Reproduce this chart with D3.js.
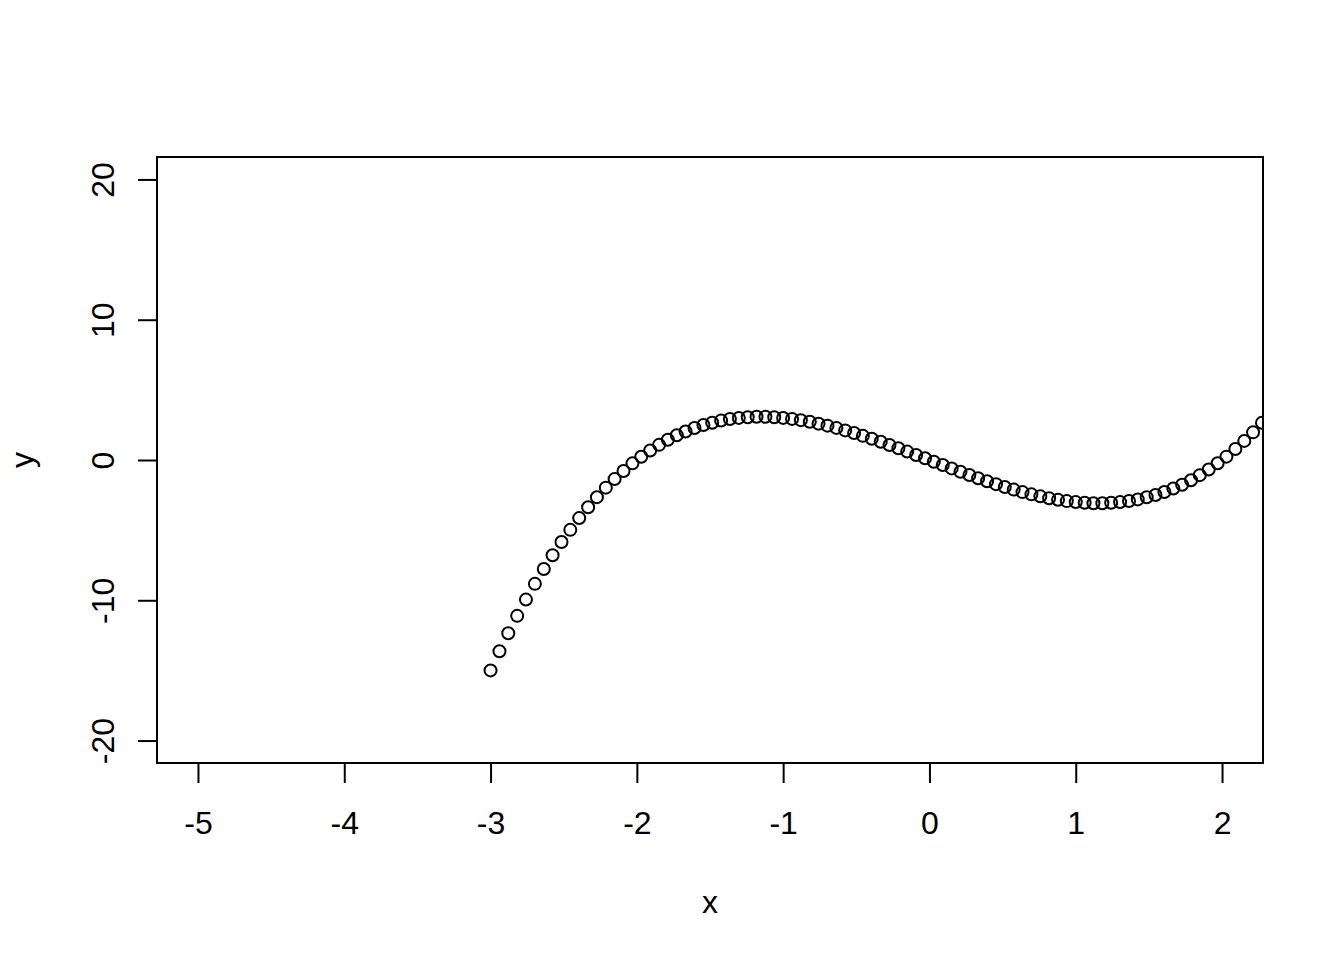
<!doctype html>
<html>
<head>
    <style>
        body { margin: 0; background: white; }
        text { font-family: "Liberation Sans", Arial, sans-serif; fill: black; }
    </style>
    <script src="https://d3js.org/d3.v7.min.js"></script>
</head>
<body>
    <svg width="1344" height="960"></svg>
    <script>
        // points (x from -3 upward)
        var xs = [-3.000, -2.939, -2.879, -2.818, -2.758, -2.697, -2.636, -2.576, -2.515, -2.455,
                  -2.394, -2.333, -2.273, -2.212, -2.152, -2.091, -2.030, -1.970, -1.909, -1.848,
                  -1.788, -1.727, -1.667, -1.606, -1.545, -1.485, -1.424, -1.364, -1.303, -1.242,
                  -1.182, -1.121, -1.061, -1.000, -0.939, -0.879, -0.818, -0.758, -0.697, -0.636,
                  -0.576, -0.515, -0.455, -0.394, -0.333, -0.273, -0.212, -0.152, -0.091, -0.030,
                   0.030,  0.091,  0.152,  0.212,  0.273,  0.333,  0.394,  0.455,  0.515,  0.576,
                   0.636,  0.697,  0.758,  0.818,  0.879,  0.939,  1.000,  1.061,  1.121,  1.182,
                   1.242,  1.303,  1.364,  1.424,  1.485,  1.545,  1.606,  1.667,  1.727,  1.788,
                   1.848,  1.909,  1.970,  2.030,  2.091,  2.152,  2.212,  2.273,  2.333];
        var ys = [-15.00, -13.63, -12.35, -11.11, -9.95, -8.83, -7.77, -6.79, -5.85, -4.98,
                  -4.14, -3.37, -2.65, -1.97, -1.36, -0.78, -0.24, 0.23, 0.68, 1.08,
                  1.44, 1.76, 2.03, 2.28, 2.49, 2.66, 2.81, 2.92, 3.00, 3.05,
                  3.08, 3.08, 3.05, 3.00, 2.93, 2.84, 2.73, 2.59, 2.45, 2.29,
                  2.11, 1.92, 1.72, 1.52, 1.30, 1.07, 0.84, 0.60, 0.36, 0.12,
                  -0.12, -0.36, -0.60, -0.84, -1.07, -1.30, -1.52, -1.72, -1.92, -2.11,
                  -2.29, -2.45, -2.59, -2.73, -2.84, -2.93, -3.00, -3.05, -3.08, -3.08,
                  -3.05, -3.00, -2.92, -2.81, -2.66, -2.49, -2.28, -2.03, -1.76, -1.44,
                  -1.08, -0.68, -0.23, 0.24, 0.78, 1.36, 1.97, 2.65, 3.37];
        var xTicks = [-5, -4, -3, -2, -1, 0, 1, 2];
        var yTicks = [-20, -10, 0, 10, 20];
        var xlim = [-5, 2], ylim = [-20, 20];

        var svg = d3.select("svg");
        var pLeft = 157, pRight = 1263, pTop = 157, pBottom = 763;
        var fontSize = "32px";

        // R style 4% padding on each side
        var xpad = (xlim[1] - xlim[0]) * 0.04, ypad = (ylim[1] - ylim[0]) * 0.04;
        var x = d3.scaleLinear().domain([xlim[0] - xpad, xlim[1] + xpad]).range([pLeft, pRight]);
        var y = d3.scaleLinear().domain([ylim[0] - ypad, ylim[1] + ypad]).range([pBottom, pTop]);

        svg.append("clipPath").attr("id", "plotclip")
           .append("rect")
           .attr("x", pLeft).attr("y", pTop)
           .attr("width", pRight - pLeft).attr("height", pBottom - pTop);

        var data = xs.map(function(d, i) { return { x: d, y: ys[i] }; });

        svg.append("g")
           .attr("clip-path", "url(#plotclip)")
           .selectAll("circle")
           .data(data)
           .enter().append("circle")
           .attr("cx", function(d) { return x(d.x); })
           .attr("cy", function(d) { return y(d.y); })
           .attr("r", 6)
           .attr("fill", "none")
           .attr("stroke", "black")
           .attr("stroke-width", 2);

        // x axis
        var xAxis = svg.append("g")
           .attr("transform", "translate(0," + pBottom + ")")
           .call(d3.axisBottom(x).tickValues(xTicks).tickSize(20).tickFormat(d3.format("d")));
        xAxis.select(".domain").remove();
        xAxis.selectAll("line").attr("stroke", "black").attr("stroke-width", 2);
        xAxis.selectAll("text").remove();
        xAxis.selectAll(".tick").append("text")
             .attr("y", 71)
             .attr("text-anchor", "middle")
             .attr("font-size", fontSize)
             .attr("fill", "black")
             .text(function(d) { return String(d); });

        // y axis
        var yAxis = svg.append("g")
           .attr("transform", "translate(" + pLeft + ",0)")
           .call(d3.axisLeft(y).tickValues(yTicks).tickSize(19).tickFormat(d3.format("d")));
        yAxis.select(".domain").remove();
        yAxis.selectAll("line").attr("stroke", "black").attr("stroke-width", 2);
        yAxis.selectAll("text").remove();
        yAxis.selectAll(".tick").append("text")
             .attr("transform", "translate(-43.5,0) rotate(-90)")
             .attr("text-anchor", "middle")
             .attr("font-size", fontSize)
             .attr("fill", "black")
             .text(function(d) { return String(d); });

        // box
        svg.append("rect")
           .attr("x", pLeft).attr("y", pTop)
           .attr("width", pRight - pLeft).attr("height", pBottom - pTop)
           .attr("fill", "none")
           .attr("stroke", "black")
           .attr("stroke-width", 2);

        svg.append("text")
           .attr("x", (pLeft + pRight) / 2)
           .attr("y", 913)
           .attr("text-anchor", "middle")
           .attr("font-size", fontSize)
           .text("x");

        svg.append("text")
           .attr("transform", "translate(33," + (pTop + pBottom) / 2 + ") rotate(-90)")
           .attr("text-anchor", "middle")
           .attr("font-size", fontSize)
           .text("y");
    </script>
</body>
</html>
